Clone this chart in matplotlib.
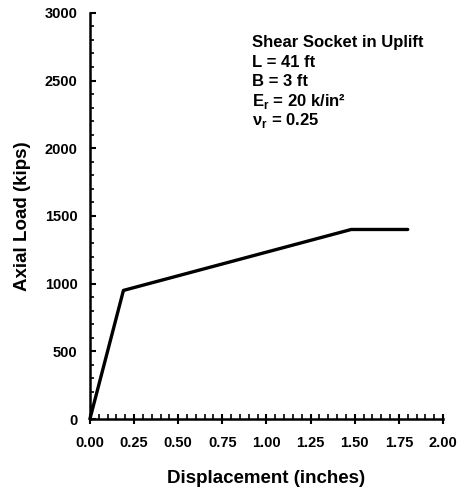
import matplotlib
matplotlib.use("Agg")
import matplotlib.pyplot as plt
from matplotlib.ticker import MultipleLocator

plt.rcParams['font.family'] = ['Liberation Sans', 'DejaVu Sans']
plt.rcParams['font.weight'] = 'bold'
plt.rcParams.update({'mathtext.fontset': 'custom', 'mathtext.rm': 'Liberation Sans:bold',
                     'mathtext.bf': 'Liberation Sans:bold'})

disp = [0.0, 0.19, 1.48, 1.80]
load = [0, 950, 1400, 1400]
xticks = [0.0, 0.25, 0.5, 0.75, 1.0, 1.25, 1.5, 1.75, 2.0]
yticks = [0, 500, 1000, 1500, 2000, 2500, 3000]
notes = ["Shear Socket in Uplift", "L = 41 ft", "B = 3 ft",
         r"E$_\mathbf{r}$ = 20 k/in²", r"ν$_\mathbf{r}$ = 0.25"]

fig = plt.figure(figsize=(4.61, 4.93), dpi=100)
ax = fig.add_axes([0.195, 0.150, 0.766, 0.824])
ax.plot(disp, load, color="black", lw=2.4, solid_capstyle="round", clip_on=False)

ax.set_xlim(0, 2.0)
ax.set_ylim(0, 3000)
ax.set_xticks(xticks)
ax.set_xticklabels(["%.2f" % v for v in xticks], fontsize=10.5, fontweight="bold")
ax.set_yticks(yticks)
ax.set_yticklabels([str(v) for v in yticks], fontsize=10.5, fontweight="bold")
ax.xaxis.set_minor_locator(MultipleLocator(0.05))
ax.yaxis.set_minor_locator(MultipleLocator(100))
ax.tick_params(axis="x", which="major", direction="inout", length=7, width=1.5, pad=9)
ax.tick_params(axis="x", which="minor", direction="in", length=3.5, width=1.2)
ax.tick_params(axis="y", which="major", direction="in", length=4.5, width=1.5, pad=9)
ax.tick_params(axis="y", which="minor", direction="in", length=3, width=1.2)
for s in ["top", "right"]:
    ax.spines[s].set_visible(False)
for s in ["left", "bottom"]:
    ax.spines[s].set_linewidth(1.8)

ax.set_xlabel("Displacement (inches)", fontsize=13.5, fontweight="bold", labelpad=14)
ax.set_ylabel("Axial Load (kips)", fontsize=13.5, fontweight="bold", labelpad=10)

for i, t in enumerate(notes):
    fig.text(252 / 461, 1 - (43 + i * 19.5) / 493, t, fontsize=12, fontweight="bold",
             va="center", ha="left")

fig.savefig("out.png", dpi=100)
